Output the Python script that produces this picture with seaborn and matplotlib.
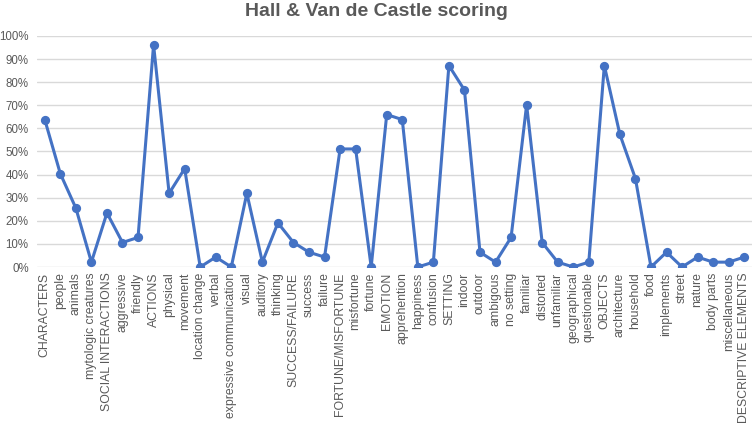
import numpy as np
import pandas as pd
import matplotlib
matplotlib.use("Agg")
import matplotlib.pyplot as plt
import seaborn as sns
from matplotlib.ticker import PercentFormatter

# Categories (x axis)
categories = [
    "CHARACTERS", "people", "animals", "mytologic creatures",
    "SOCIAL INTERACTIONS", "aggressive", "friendly",
    "ACTIONS", "physical", "movement", "location change", "verbal",
    "expressive communication", "visual", "auditory", "thinking",
    "SUCCESS/FAILURE", "success", "failure",
    "FORTUNE/MISFORTUNE", "misfortune", "fortune",
    "EMOTION", "apprehention", "happiness", "confusion",
    "SETTING", "indoor", "outdoor", "ambigous", "no setting", "familiar",
    "distorted", "unfamiliar", "geographical", "questionable",
    "OBJECTS", "architecture", "household", "food", "implements", "street",
    "nature", "body parts", "miscellaneous", "DESCRIPTIVE ELEMENTS",
]

# Percent scores
scores = [
    63.8, 40.4, 25.5, 2.1,
    23.4, 10.6, 12.8,
    96.2, 31.9, 42.6, 0.0, 4.3,
    0.0, 31.9, 2.1, 19.1,
    10.6, 6.4, 4.3,
    51.1, 51.1, 0.0,
    66.0, 63.8, 0.0, 2.1,
    87.2, 76.6, 6.4, 2.1, 12.8, 70.2,
    10.6, 2.1, 0.0, 2.1,
    87.2, 57.4, 38.3, 0.0, 6.4, 0.0,
    4.3, 2.1, 2.1, 4.3,
]

df = pd.DataFrame({"category": categories, "score": scores})

sns.set_style("white")
plt.rcParams["font.family"] = ["Liberation Sans", "DejaVu Sans"]

line_color = "#4472C4"
text_color = "#595959"

fig = plt.figure(figsize=(7.53, 4.26), dpi=100)
ax = fig.add_axes([37 / 753, 1 - 267 / 426, 715 / 753, 231 / 426])

sns.pointplot(data=df, x="category", y="score", order=categories,
              color=line_color, markers="o", markersize=5,
              linewidth=2.2, errorbar=None, ax=ax)

ax.set_ylim(0, 100)
ax.set_xlim(-0.5, len(categories) - 0.5)
ax.set_yticks(np.arange(0, 101, 10))
ax.yaxis.set_major_formatter(PercentFormatter(decimals=0))
ax.grid(axis="y", color="#D9D9D9", linewidth=1)
ax.grid(axis="x", visible=False)
ax.set_axisbelow(True)
for s in ax.spines.values():
    s.set_visible(False)

ax.tick_params(axis="x", labelrotation=90, labelsize=8.8, colors=text_color,
               length=0, pad=4)
ax.tick_params(axis="y", labelsize=8.3, colors=text_color, length=0, pad=6)
ax.set_xlabel("")
ax.set_ylabel("")

fig.suptitle("Hall & Van de Castle scoring", x=0.5, y=1 - 3 / 426,
             va="top", fontsize=14, fontweight="bold", color=text_color)

fig.savefig("out.png", dpi=100)
